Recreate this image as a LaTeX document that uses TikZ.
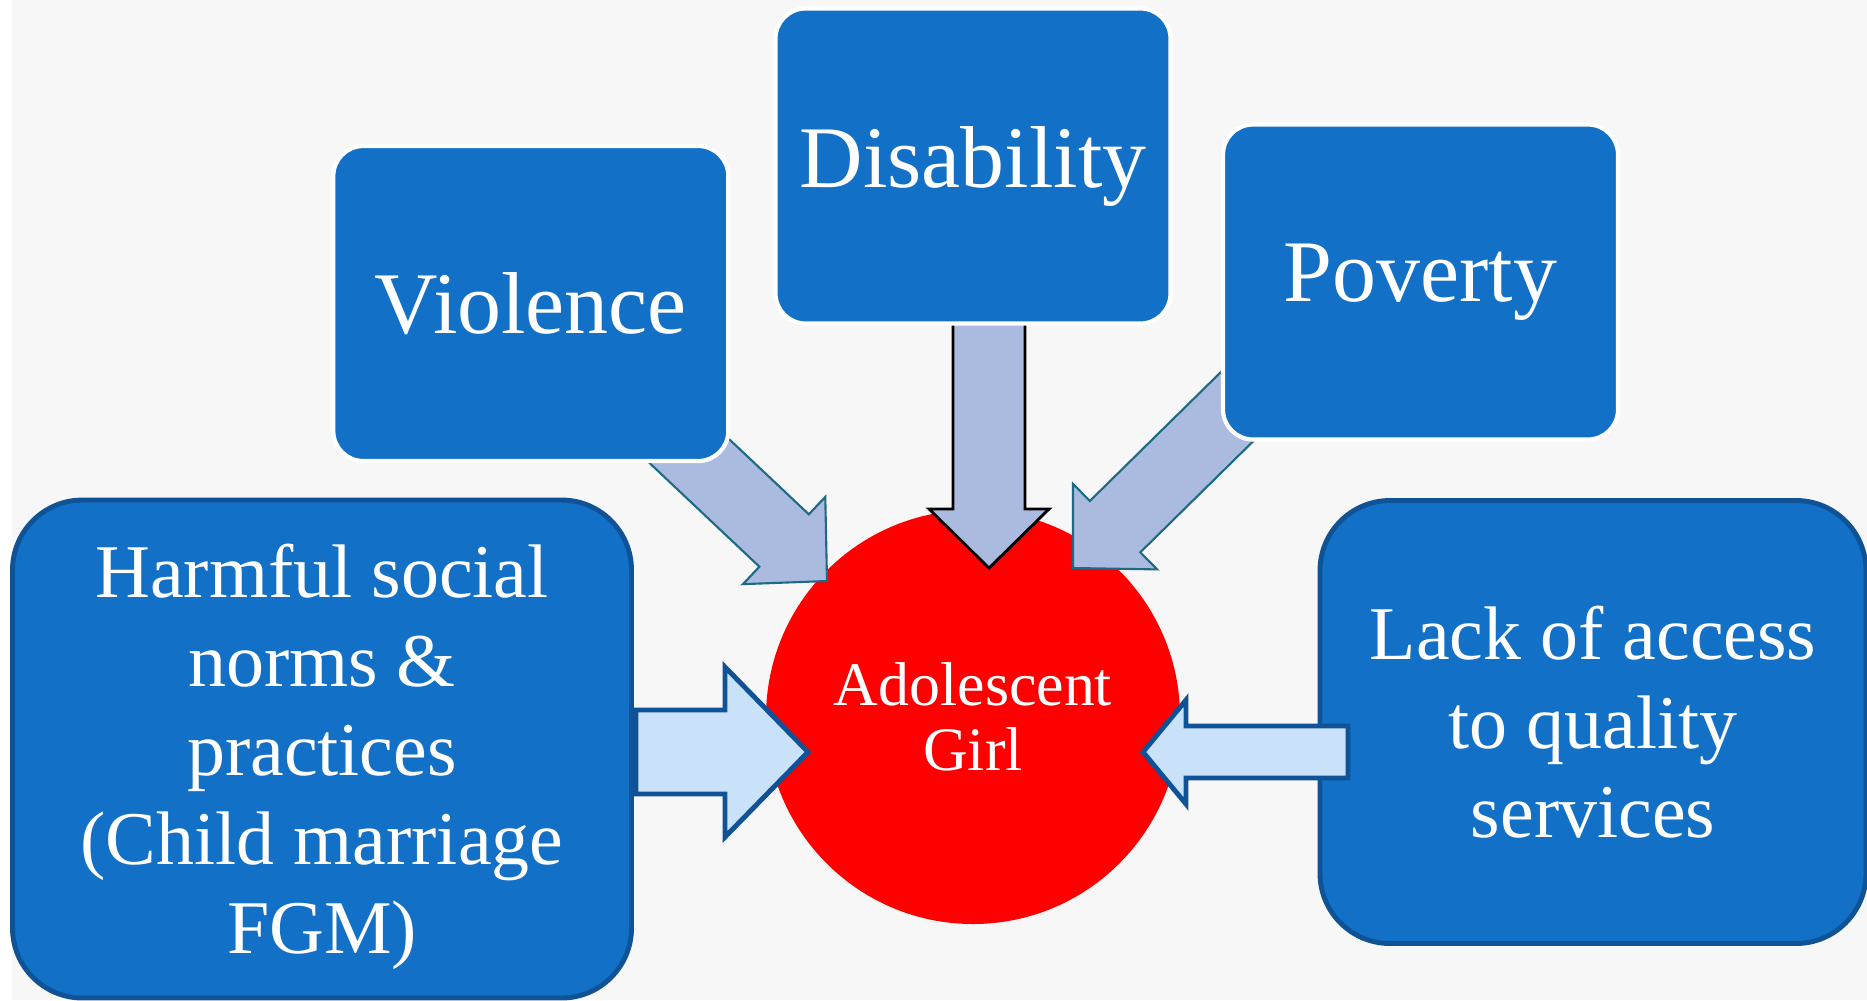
\documentclass[tikz,border=0pt]{standalone}
\usepackage{fontspec}
\setmainfont{Liberation Serif}
\usetikzlibrary{calc}
\definecolor{boxblue}{HTML}{1270C6}
\definecolor{rimblue}{HTML}{0F5296}
\definecolor{lilac}{HTML}{ABBBE0}
\definecolor{paleblue}{HTML}{C9E2F9}
\definecolor{tealrim}{HTML}{1C6A85}
\definecolor{bggray}{HTML}{F7F7F7}
\tikzset{
    topbox/.style={rectangle, rounded corners=0.3cm, fill=boxblue, draw=white, line width=1.2pt, minimum width=3.95cm, minimum height=3.15cm, inner sep=0pt, text=white, font=\fontsize{25}{30}\selectfont}, % 上方三个方框
    sidebox/.style={rectangle, rounded corners=0.7cm, fill=boxblue, draw=rimblue, line width=1.4pt, inner sep=0pt, text=white, align=center, font=\fontsize{21.6}{25.3}\selectfont}, % 两侧的大方框
    girl/.style={circle, fill=red, minimum size=4.14cm, inner sep=0pt, text=white, align=center, font=\fontsize{17.6}{18.4}\selectfont}, % 中间的圆
    slant arrow/.style={fill=lilac, draw=tealrim, line width=0.6pt},
    down arrow/.style={fill=lilac, draw=black, line width=0.8pt},
    side arrow/.style={fill=paleblue, draw=rimblue, line width=1.4pt}
}
% 粗箭头: 样式, 起点, 箭尖, 半杆宽, 半头宽, 头长
\newcommand{\blockarrow}[6]{%
    \coordinate (neck) at ($(#3)!#6!(#2)$);
    \draw[#1] ($(#2)!#4!90:(#3)$) -- ($(neck)!#4!90:(#3)$) -- ($(neck)!#5!90:(#3)$) -- (#3)
        -- ($(neck)!#5!-90:(#3)$) -- ($(neck)!#4!-90:(#3)$) -- ($(#2)!#4!-90:(#3)$) -- cycle;
}

\begin{document}
\begin{tikzpicture}[x=0.1mm, y=-0.1mm]
    \useasboundingbox (0,0) rectangle (1867,1000);
    \fill[white] (0,0) rectangle (1867,1000);
    \fill[bggray] (12,0) rectangle (1867,1000);

    \node[girl] (girl) at (973,717) {Adolescent\\Girl};

    \node[sidebox, minimum width=6.19cm, minimum height=4.98cm, text depth=0pt] (harm) at (322,749) {Harmful social\\norms \&\\practices\\(Child marriage\\FGM)};
    \node[sidebox, minimum width=5.46cm, minimum height=4.43cm] (lack) at (1593,722) {Lack of access\\to quality\\services};

    % 上方的三个箭头
    \coordinate (vio-s) at (667,430); \coordinate (vio-t) at (827,581);
    \coordinate (dis-s) at (989,318); \coordinate (dis-t) at (989,568);
    \coordinate (pov-s) at (1258,386); \coordinate (pov-t) at (1073,568);
    \blockarrow{slant arrow}{vio-s}{vio-t}{3.6mm}{6mm}{5.9mm}
    \blockarrow{down arrow}{dis-s}{dis-t}{3.6mm}{6mm}{5.9mm}
    \blockarrow{slant arrow}{pov-s}{pov-t}{3.6mm}{6mm}{5.9mm}

    \foreach \name/\x/\y/\txt in {
        vio/530.8/303.5/Violence,
        dis/973/166/Disability,
        pov/1420.5/282/Poverty
    } {
        \node[topbox] (\name) at (\x,\y) {\txt};
    }

    % 两侧的箭头
    \coordinate (harm-s) at (636,752); \coordinate (harm-t) at (808,752);
    \coordinate (lack-s) at (1348,752); \coordinate (lack-t) at (1143,752);
    \blockarrow{side arrow}{harm-s}{harm-t}{4.2mm}{8.5mm}{8.3mm}
    \blockarrow{side arrow}{lack-s}{lack-t}{2.6mm}{5.2mm}{4.3mm}
\end{tikzpicture}
\end{document}
